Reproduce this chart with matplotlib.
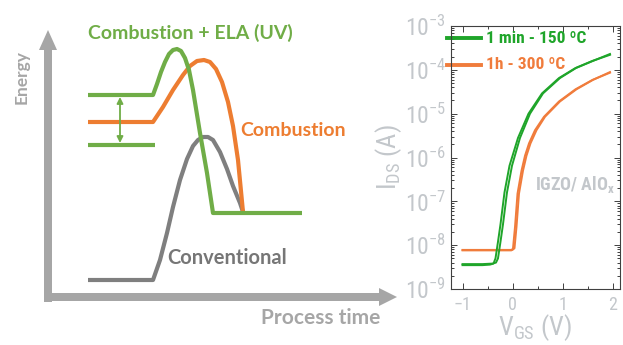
import numpy as np
import matplotlib
matplotlib.use('Agg')
import matplotlib.pyplot as plt
from matplotlib import font_manager
from matplotlib.ticker import LogLocator, NullFormatter, FixedLocator

plt.rcParams['mathtext.default'] = 'regular'

# ---- left panel: schematic energy profiles (process time, energy; arbitrary units)
ela_t = [88, 153, 157, 161, 165, 169, 173, 177, 181, 185, 189, 193, 200, 207, 213, 302]
ela_e = [205, 205, 216, 228, 238, 246, 250, 251, 249, 242, 230, 210, 167, 127, 87, 87]
comb_t = [88, 153, 163, 173, 183, 190, 197, 204, 210, 216, 222, 228, 233, 238, 243]
comb_e = [178, 178, 193, 210, 225, 234, 239, 240, 238, 231, 218, 198, 174, 140, 88]
conv_t = [88, 153, 160, 167, 173, 180, 187, 193, 198, 203, 208, 213, 220, 227, 233, 240, 243]
conv_e = [20, 20, 40, 67, 93, 120, 141, 154, 160, 163, 163, 160, 148, 131, 114, 97, 88]
low_t = [88, 155]
low_e = [155, 155]
gap_t = 120
gap_e = [203, 157]

# ---- right panel: transfer curves (forward / reverse sweep)
vg_150a = [-1.0, -0.6, -0.4, -0.33, -0.29, -0.24, -0.19, -0.11, -0.01, 0.15, 0.35, 0.61, 0.95, 1.27, 1.61, 1.95]
id_150a = [3.7e-9, 3.7e-9, 3.8e-9, 4.0e-9, 5e-9, 1.2e-8, 3e-8, 1.6e-7, 6.5e-7, 2.8e-6, 1e-5, 2.9e-5, 6.5e-5, 1.1e-4, 1.6e-4, 2.3e-4]
vg_150b = [-1.0, -0.6, -0.45, -0.38, -0.34, -0.29, -0.24, -0.16, -0.06, 0.11, 0.32, 0.59, 0.93, 1.26, 1.60, 1.95]
id_150b = [3.5e-9, 3.5e-9, 3.6e-9, 3.8e-9, 5e-9, 1.2e-8, 3e-8, 1.6e-7, 6.5e-7, 2.8e-6, 1e-5, 2.9e-5, 6.5e-5, 1.1e-4, 1.6e-4, 2.2e-4]
vg_300a = [-1.0, -0.5, 0.0, 0.04, 0.08, 0.13, 0.21, 0.28, 0.36, 0.48, 0.65, 0.95, 1.28, 1.61, 1.95]
id_300a = [7.8e-9, 7.8e-9, 7.8e-9, 8.5e-9, 2.6e-8, 1.5e-7, 5e-7, 1.1e-6, 2.1e-6, 4.2e-6, 8.5e-6, 1.9e-5, 3.6e-5, 5.9e-5, 8.9e-5]
vg_300b = [-1.0, -0.5, -0.02, 0.01, 0.05, 0.10, 0.18, 0.25, 0.33, 0.45, 0.63, 0.93, 1.26, 1.60, 1.95]
id_300b = [7.6e-9, 7.6e-9, 7.6e-9, 8.5e-9, 2.6e-8, 1.5e-7, 5e-7, 1.1e-6, 2.1e-6, 4.2e-6, 8.5e-6, 1.9e-5, 3.6e-5, 5.9e-5, 8.6e-5]
xticks = [-1, 0, 1, 2]
yticks = [1e-9, 1e-8, 1e-7, 1e-6, 1e-5, 1e-4, 1e-3]
ytick_labels = ['$10^{-9}$', '$10^{-8}$', '$10^{-7}$', '$10^{-6}$', '$10^{-5}$', '$10^{-4}$', '$10^{-3}$']

# condensed sans if one is around, else plain
names = {f.name for f in font_manager.fontManager.ttflist}
nar_name = 'DejaVu Sans'
for cand in ['Liberation Sans Narrow', 'Roboto Condensed', 'Open Sans Condensed', 'Noto Sans Condensed']:
    if cand in names:
        nar_name = cand
        break

W, H = 623, 345
fig = plt.figure(figsize=(W / 100, H / 100), dpi=100)

# left schematic
g1 = '#70ad47'
o1 = '#ed7d31'
gr = '#7f7f7f'
ax_c = '#a6a6a6'
ax = fig.add_axes([0, 0, 400 / W, 1])
ax.set_xlim(0, 400)
ax.set_ylim(-45, 300)
ax.axis('off')

ax.arrow(48, -2, 0, 272, width=8, head_width=18, head_length=20,
         length_includes_head=True, color=ax_c, lw=0)
ax.arrow(44, 3, 353, 0, width=8, head_width=18, head_length=18,
         length_includes_head=True, color=ax_c, lw=0)

ax.plot(conv_t, conv_e, color=gr, lw=3, solid_capstyle='butt')
ax.plot(comb_t, comb_e, color=o1, lw=3, solid_capstyle='butt')
ax.plot(ela_t, ela_e, color=g1, lw=3, solid_capstyle='butt')
ax.plot(low_t, low_e, color=g1, lw=3, solid_capstyle='butt')
ax.annotate('', xy=(gap_t, gap_e[0]), xytext=(gap_t, gap_e[1]),
            arrowprops=dict(arrowstyle='<|-|>', color=g1, lw=1.3,
                            mutation_scale=9, shrinkA=0, shrinkB=0))

fnt = 'Lato'
ax.text(88, 267, 'Combustion + ELA (UV)', color=g1, fontsize=14, fontweight='bold',
        family=fnt, ha='left', va='center')
ax.text(240, 170, 'Combustion', color=o1, fontsize=14, fontweight='bold',
        family=fnt, ha='left', va='center')
ax.text(167, 42, 'Conventional', color='#767676', fontsize=14.5, fontweight='bold',
        family=fnt, ha='left', va='center')
ax.text(22, 223, 'Energy', color=ax_c, fontsize=12.5, fontweight='bold',
        family=fnt, ha='center', va='center', rotation=90)
ax.text(321, -18, 'Process time', color=ax_c, fontsize=15, fontweight='bold',
        family=fnt, ha='center', va='center')

# right I-V plot
nar = [nar_name]
st = 'condensed'
g2 = '#1fa52a'
o2 = '#f07c3c'
lc = '#c3c7cb'
bx = fig.add_axes([450.5 / W, 56 / H, 169.5 / W, 263 / H])
bx.plot(vg_300a, id_300a, color=o2, lw=1.4)
bx.plot(vg_300b, id_300b, color=o2, lw=1.4)
bx.plot(vg_150a, id_150a, color=g2, lw=1.4)
bx.plot(vg_150b, id_150b, color=g2, lw=1.4)
bx.set_yscale('log')
bx.set_xlim(-1.24, 2.15)
bx.set_ylim(1e-9, 1e-3)
bx.yaxis.set_major_locator(FixedLocator(yticks))
bx.set_yticklabels(ytick_labels)
bx.yaxis.set_minor_locator(LogLocator(base=10, subs=np.arange(2, 10)))
bx.yaxis.set_minor_formatter(NullFormatter())
bx.set_xticks(xticks)
bx.set_xticks([-0.5, 0.5, 1.5], minor=True)
bx.tick_params(which='both', direction='in', top=True, right=True, colors='#404040',
               labelcolor=lc, width=0.7)
bx.tick_params(which='major', length=4)
bx.tick_params(which='minor', length=2)
bx.tick_params(axis='y', pad=3)
bx.tick_params(axis='x', pad=5)
for lab in bx.get_yticklabels():
    lab.set_family(nar)
    lab.set_stretch(st)
    lab.set_fontsize(17)
for lab in bx.get_xticklabels():
    lab.set_family(nar)
    lab.set_stretch(st)
    lab.set_fontsize(13)
for s in bx.spines.values():
    s.set_color('#404040')
    s.set_linewidth(0.8)

bx.set_ylabel('I$_{DS}$ (A)', color=lc, fontsize=19, family=nar, stretch=st, labelpad=1)
bx.set_xlabel('V$_{GS}$ (V)', color=lc, fontsize=19, family=nar, stretch=st, labelpad=-1)

# legend drawn as lines + text in axes coords
bx.plot([-0.02, 0.18], [0.953, 0.953], color=g2, lw=2.8, transform=bx.transAxes, clip_on=False)
bx.plot([-0.02, 0.18], [0.853, 0.853], color=o2, lw=2.8, transform=bx.transAxes, clip_on=False)
bx.text(0.21, 0.953, '1 min - 150 \u00baC', color=g2, fontsize=12.5, fontweight='bold',
        family=nar, stretch=st, transform=bx.transAxes, va='center')
bx.text(0.21, 0.853, '1h - 300 \u00baC', color=o2, fontsize=12.5, fontweight='bold',
        family=nar, stretch=st, transform=bx.transAxes, va='center')
bx.text(0.5, 0.397, 'IGZO/ AlO$_x$', color=lc, fontsize=13, fontweight='bold',
        family=nar, stretch=st, transform=bx.transAxes, va='center')

fig.savefig('out.png', dpi=100)
